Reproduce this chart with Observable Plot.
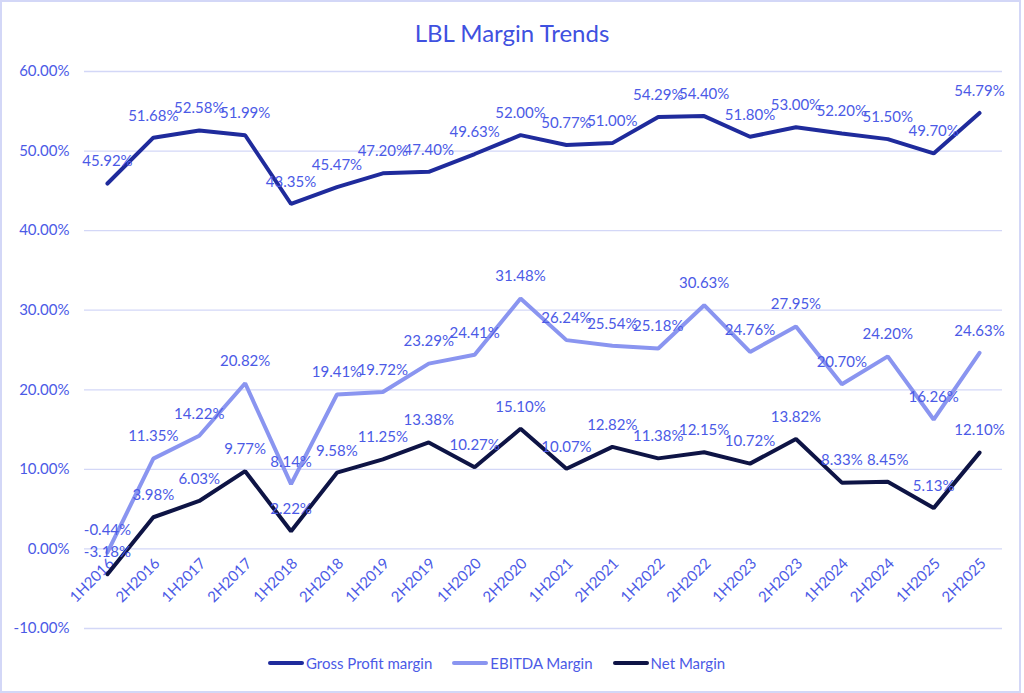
<!DOCTYPE html>
<html>
<head>
<meta charset="utf-8">
<script src="https://cdn.jsdelivr.net/npm/d3@7"></script>
<script src="https://cdn.jsdelivr.net/npm/@observablehq/plot@0.6"></script>
<style>
  html, body { margin: 0; padding: 0; background: #fff; }
  #frame { position: relative; box-sizing: border-box; width: 1021px; height: 693px; border: 2px solid #d3d7f7; font-family: Lato, "Open Sans", sans-serif; }
  #title { position: absolute; left: -2px; top: 16px; width: 1024px; text-align: center; font-size: 24px; color: #3f51e0; }
  #chart { position: absolute; left: -2px; top: -2px; width: 1024px; }
  #chart svg { max-width: none !important; }
  #legend { position: absolute; left: 266px; top: 652px; display: flex; gap: 20px; font-size: 15px; color: #4b5ae6; }
  .item { display: flex; align-items: center; }
  .sw { display: inline-block; width: 36px; height: 4px; border-radius: 2px; margin-right: 2px; }
</style>
</head>
<body>
<div id="frame">
  <div id="chart"></div>
  <div id="title">LBL Margin Trends</div>
  <div id="legend"></div>
</div>
<script>
const periods = ["1H2016","2H2016","1H2017","2H2017","1H2018","2H2018","1H2019","2H2019","1H2020","2H2020","1H2021","2H2021","1H2022","2H2022","1H2023","2H2023","1H2024","2H2024","1H2025","2H2025"];
const grossProfit = [45.92,51.68,52.58,51.99,43.35,45.47,47.20,47.40,49.63,52.00,50.77,51.00,54.29,54.40,51.80,53.00,52.20,51.50,49.70,54.79];
const ebitda = [-0.44,11.35,14.22,20.82,8.14,19.41,19.72,23.29,24.41,31.48,26.24,25.54,25.18,30.63,24.76,27.95,20.70,24.20,16.26,24.63];
const netMargin = [-3.18,3.98,6.03,9.77,2.22,9.58,11.25,13.38,10.27,15.10,10.07,12.82,11.38,12.15,10.72,13.82,8.33,8.45,5.13,12.10];
const seriesNames = ["Gross Profit margin","EBITDA Margin","Net Margin"];
const seriesColors = ["#1f2b9c","#8a95f0","#0e1445"];
const yTicks = [-10,0,10,20,30,40,50,60];

const seriesValues = [grossProfit, ebitda, netMargin];
const rows = [];
seriesNames.forEach((s, si) => periods.forEach((p, i) => rows.push({series: s, period: p, value: seriesValues[si][i]})));

const textColor = "#4b5ae6";
const fmt = v => v.toFixed(2) + "%";

const chart = Plot.plot({
  width: 1024,
  height: 650,
  marginLeft: 84,
  marginRight: 22,
  marginTop: 71,
  marginBottom: 22,
  style: {fontFamily: "Lato, 'Open Sans', sans-serif", fontSize: "15px", color: textColor, background: "transparent"},
  x: {type: "point", domain: periods, padding: 0.5, round: false, axis: null},
  y: {domain: [-10, 60], axis: null},
  color: {domain: seriesNames, range: seriesColors},
  marks: [
    Plot.ruleY(yTicks, {stroke: "#d3d7f7", strokeWidth: 1.3}),
    Plot.text(yTicks, {y: d => d, frameAnchor: "left", dx: -15, text: d => fmt(d), textAnchor: "end", fill: textColor, fontSize: 15}),
    Plot.text(periods, {x: d => d, y: () => 0, text: d => d, rotate: -45, textAnchor: "end", dx: 4, dy: 12, fill: textColor, fontSize: 15}),
    Plot.line(rows, {x: "period", y: "value", z: "series", stroke: "series", strokeWidth: 4, strokeLinejoin: "miter", strokeLinecap: "round"}),
    Plot.text(rows, {x: "period", y: "value", text: d => fmt(d.value), dy: -22, fill: textColor, fontSize: 15})
  ]
});
document.getElementById("chart").appendChild(chart);

const legend = document.getElementById("legend");
seriesNames.forEach((s, i) => {
  const item = document.createElement("div");
  item.className = "item";
  const sw = document.createElement("span");
  sw.className = "sw";
  sw.style.background = seriesColors[i];
  item.appendChild(sw);
  item.appendChild(document.createTextNode(s));
  legend.appendChild(item);
});
</script>
</body>
</html>
